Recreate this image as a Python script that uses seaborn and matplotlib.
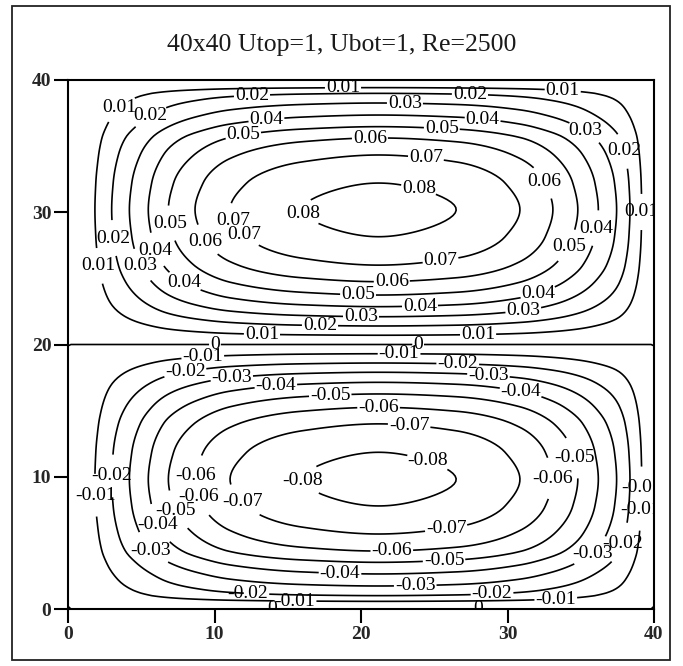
import numpy as np
import matplotlib
matplotlib.use("Agg")
import matplotlib.pyplot as plt
from matplotlib.patches import Rectangle
import seaborn as sns

sns.set_style("ticks")
plt.rcParams["font.family"] = ["Liberation Serif", "DejaVu Serif"]
plt.rcParams["axes.unicode_minus"] = False
plt.rcParams["contour.negative_linestyle"] = "solid"

# ---- data (upper vortex; lower one is its mirror with opposite sign) ----
title = "40x40 Utop=1, Ubot=1, Re=2500"
levels_pos = [0.01, 0.02, 0.03, 0.04, 0.05, 0.06, 0.07, 0.08]
psi_peak = 0.0835
center_x = 21.2
center_y = 30.2
# where each positive level crosses the horizontal line through the vortex centre
x_left = [1.84, 2.98, 4.19, 5.48, 6.85, 8.67, 11.06, 15.97]
x_right = [39.16, 38.36, 37.45, 36.2, 34.8, 33.1, 30.85, 26.5]
# where each positive level crosses the vertical line through the vortex centre
y_lower = [20.7, 21.4, 22.1, 22.86, 23.74, 24.75, 26.0, 28.15]
y_upper = [39.42, 38.99, 38.26, 37.35, 36.47, 35.62, 34.33, 32.21]
tick_values = [0, 10, 20, 30, 40]


def pchip(xk, yk, x):
    xk = np.asarray(xk, float)
    yk = np.asarray(yk, float)
    h = np.diff(xk)
    d = np.diff(yk) / h
    n = len(xk)
    m = np.zeros(n)
    for k in range(1, n - 1):
        if d[k - 1] * d[k] <= 0:
            m[k] = 0.0
        else:
            w1 = 2 * h[k] + h[k - 1]
            w2 = h[k] + 2 * h[k - 1]
            m[k] = (w1 + w2) / (w1 / d[k - 1] + w2 / d[k])
    m[0] = d[0]
    m[-1] = d[-1]
    i = np.clip(np.searchsorted(xk, x) - 1, 0, n - 2)
    t = (x - xk[i]) / h[i]
    h00 = 2 * t**3 - 3 * t**2 + 1
    h10 = t**3 - 2 * t**2 + t
    h01 = -2 * t**3 + 3 * t**2
    h11 = t**3 - t**2
    return h00 * yk[i] + h10 * h[i] * m[i] + h01 * yk[i + 1] + h11 * h[i] * m[i + 1]


lev = list(levels_pos)
xk = [0.0] + x_left + [center_x] + x_right[::-1] + [40.0]
vx = [0.0] + lev + [psi_peak] + lev[::-1] + [0.0]
yk = [20.0] + y_lower + [center_y] + y_upper[::-1] + [40.0]
vy = [0.0] + lev + [psi_peak] + lev[::-1] + [0.0]

xs = np.linspace(0, 40, 201)
ys = np.linspace(0, 40, 200)
X = pchip(xk, vx, xs) / psi_peak
Y = np.where(ys >= 20, pchip(yk, vy, np.clip(ys, 20, 40)),
             -pchip(yk, vy, np.clip(40 - ys, 20, 40))) / psi_peak
Z = psi_peak * Y[:, None] * X[None, :]

# the zero level sits a hair below 0 so it also follows the walls of the lower cell
zero_level = -1e-9
levels = sorted([-v for v in levels_pos] + [zero_level] + levels_pos)

fig = plt.figure(figsize=(6.83, 6.66), dpi=100)
fig.patches.append(Rectangle((12 / 683, 6 / 666), 658 / 683, 654 / 666, transform=fig.transFigure,
                             fill=False, edgecolor="#222222", linewidth=1.3))
ax = fig.add_axes([68 / 683, 1 - 609 / 666, (654 - 68) / 683, (609 - 80) / 666])

cs = ax.contour(xs, ys, Z, levels=levels, colors="black", linewidths=1.2)


def fmt(v):
    return "0" if abs(v) < 1e-6 else f"{v:.2f}"


label_pos = [
    (3.55, 37.88), (12.56, 38.79), (18.77, 39.55), (27.44, 39.09), (33.79, 39.62),
    (5.73, 37.05), (13.52, 37.28), (23.0, 38.34), (28.3, 37.0), (35.3, 36.1),
    (11.95, 35.92), (20.61, 35.54), (25.53, 36.67), (24.44, 34.18), (33.24, 32.67),
    (38.2, 34.7), (24.03, 32.14), (15.97, 29.79), (11.47, 29.49), (11.74, 28.05),
    (9.49, 27.9), (7.1, 29.19), (3.14, 28.05), (6.0, 27.15), (2.12, 25.94),
    (4.91, 25.94), (7.99, 24.8), (39.25, 30.02), (35.97, 28.81), (33.72, 27.68),
    (25.4, 26.6), (22.1, 24.88), (32.08, 23.89), (19.8, 23.89), (24.03, 22.84),
    (20.0, 22.15), (31.13, 22.15), (17.2, 21.4), (13.24, 20.87), (27.99, 20.87),
    (10.03, 20.04), (23.9, 20.19),
    (9.2, 19.05), (22.6, 19.4), (8.0, 17.92), (26.6, 18.3), (11.2, 17.24),
    (28.7, 17.69), (14.2, 16.71), (30.85, 16.1), (17.9, 16.18), (21.2, 15.2),
    (23.3, 14.06), (34.95, 11.57), (33.3, 9.9), (24.7, 11.64), (15.8, 9.68),
    (8.8, 10.06), (9.1, 8.92), (12.0, 8.17), (7.6, 7.56), (3.0, 10.06),
    (2.2, 8.62), (39.4, 9.15), (39.05, 7.64), (5.6, 6.12), (6.1, 4.91),
    (37.5, 5.07), (25.8, 6.2), (22.1, 4.54), (25.67, 3.63), (35.97, 4.0),
    (18.57, 2.8), (23.7, 1.89), (12.29, 1.44), (28.94, 1.29), (15.5, 0.68),
    (33.3, 0.68), (13.9, 0.1), (28.0, 0.1),
]
ax.clabel(cs, manual=label_pos, inline=True, fmt=fmt, fontsize=14, inline_spacing=1)
for t in cs.labelTexts:
    t.set_rotation(0)
    t.set_clip_on(True)
    t.set_clip_box(ax.bbox)

ax.set_xlim(0, 40)
ax.set_ylim(0, 40)
ax.set_xticks(tick_values)
ax.set_yticks(tick_values)
ax.set_xticklabels([str(v) for v in tick_values], fontsize=14, fontweight="bold")
ax.set_yticklabels([str(v) for v in tick_values], fontsize=14, fontweight="bold")
ax.tick_params(direction="out", length=10, width=1.5, pad=2, color="black")
for s in ax.spines.values():
    s.set_linewidth(1.5)
    s.set_color("black")

fig.text(341.5 / 683, 1 - 45 / 666, title, ha="center", va="center", fontsize=18.5, color="#1a1a1a")

fig.savefig("out.png", dpi=100)
